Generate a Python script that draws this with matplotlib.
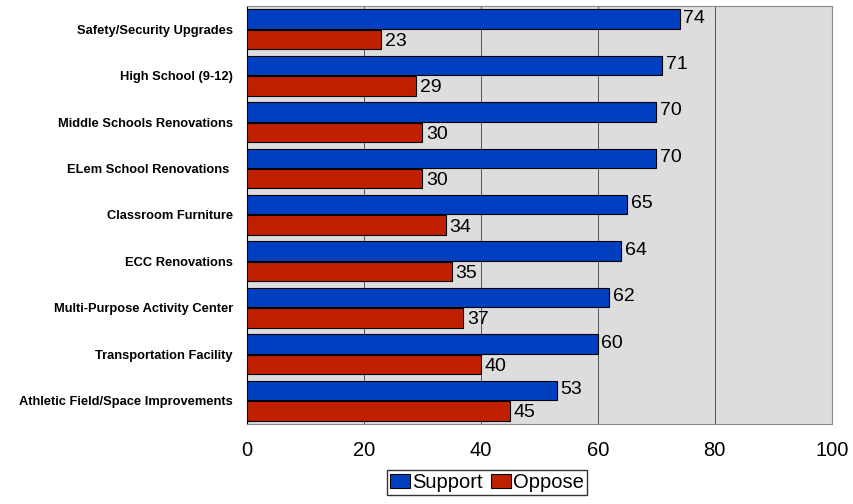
import matplotlib.pyplot as plt
import numpy as np

plt.rcParams['font.family'] = ['Liberation Sans', 'DejaVu Sans']

categories = ['Safety/Security Upgrades', 'High School (9-12)', 'Middle Schools Renovations',
              'ELem School Renovations ', 'Classroom Furniture', 'ECC Renovations',
              'Multi-Purpose Activity Center', 'Transportation Facility',
              'Athletic Field/Space Improvements']
support = [74, 71, 70, 70, 65, 64, 62, 60, 53]
oppose = [23, 29, 30, 30, 34, 35, 37, 40, 45]

fig = plt.figure(figsize=(8.54, 5.04), dpi=100)
ax = fig.add_axes([0.289, 0.159, 0.685, 0.829])
ax.set_facecolor('#DDDDDD')

y = np.arange(len(categories))
h = 0.42
ax.barh(y - h / 2 - 0.01, support, height=h, color='#0040C0', edgecolor='black',
        linewidth=0.8, label='Support', zorder=3)
ax.barh(y + h / 2 + 0.01, oppose, height=h, color='#C02000', edgecolor='black',
        linewidth=0.8, label='Oppose', zorder=3)

for i in range(len(categories)):
    ax.text(support[i] + 0.6, y[i] - h / 2 - 0.03, str(support[i]), va='center',
            ha='left', fontsize=14)
    ax.text(oppose[i] + 0.6, y[i] + h / 2 + 0.05, str(oppose[i]), va='center',
            ha='left', fontsize=14)

ax.set_xlim(0, 100)
ax.set_ylim(len(categories) - 0.5, -0.5)
ax.set_xticks([0, 20, 40, 60, 80, 100])
ax.set_yticks(y)
ax.set_yticklabels(categories, fontsize=9.3, fontweight='bold')
ax.tick_params(axis='x', labelsize=14.5, length=0, pad=12)
ax.tick_params(axis='y', length=0, pad=10)
ax.grid(axis='x', color='#555555', linewidth=0.7, zorder=0)
for s in ax.spines.values():
    s.set_color('#888888')
    s.set_linewidth(0.8)
ax.spines['left'].set_color('black')

ax.legend(loc='upper center', bbox_to_anchor=(0.41, -0.095), ncol=2, fontsize=14.5,
          frameon=True, fancybox=False, edgecolor='black', handlelength=1.0,
          handleheight=0.7, handletextpad=0.1, columnspacing=0.4, borderpad=0.15,
          borderaxespad=0.3)

plt.savefig('out.png', dpi=100)
